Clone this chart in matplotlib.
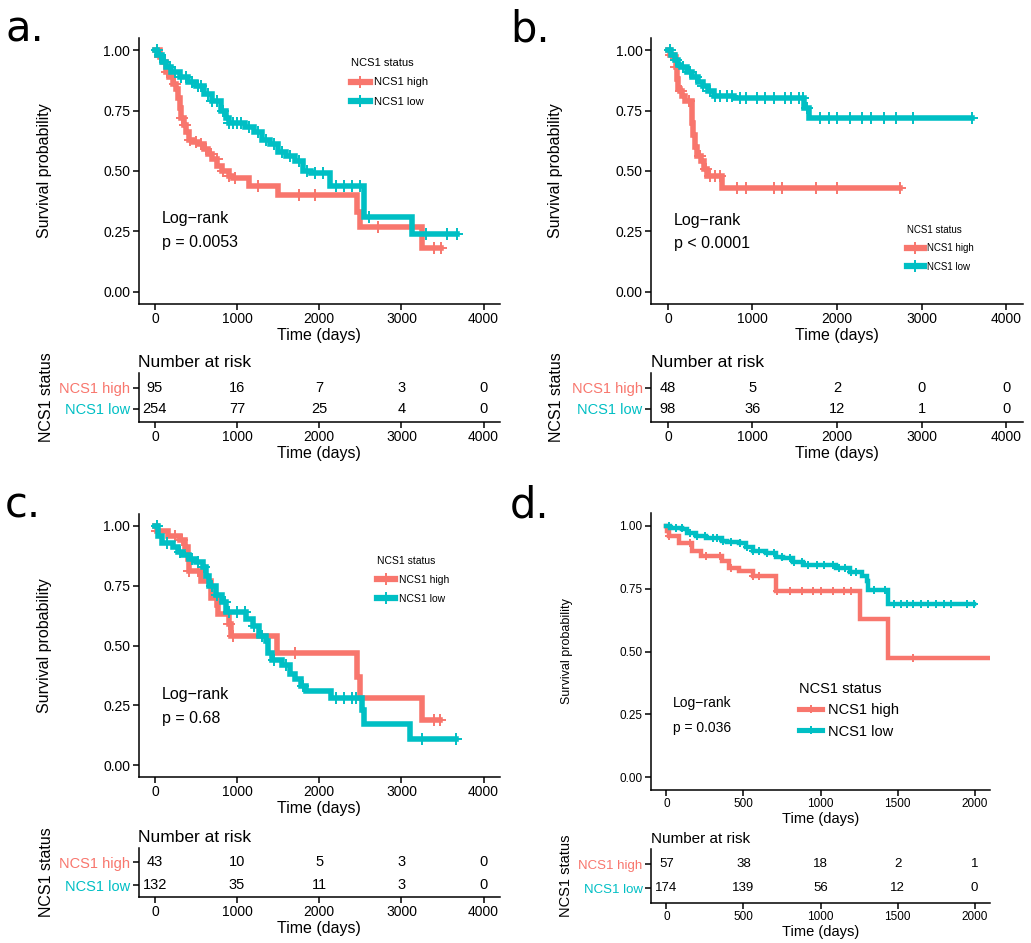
import numpy as np
import matplotlib.pyplot as plt
from matplotlib.lines import Line2D

W, H = 1031, 943
RED = '#F8766D'
CYAN = '#00BFC4'
plt.rcParams['font.family'] = ['Liberation Sans', 'DejaVu Sans']

groups = ['NCS1 high', 'NCS1 low']

# ---- panel a ----
a_high_t = [0, 60, 100, 130, 170, 220, 260, 280, 300, 320, 350, 380, 420, 460, 520, 600,
            650, 700, 760, 820, 900, 950, 1150, 1500, 2460, 2490, 3250]
a_high_s = [1.0, 0.97, 0.95, 0.91, 0.89, 0.86, 0.84, 0.80, 0.76, 0.72, 0.69, 0.66, 0.63, 0.62,
            0.61, 0.59, 0.57, 0.55, 0.52, 0.50, 0.48, 0.47, 0.44, 0.40, 0.33, 0.27, 0.18]
a_high_end = 3480
a_high_cens = [60, 150, 250, 330, 370, 430, 500, 560, 620, 680, 750, 830, 900, 980, 1250,
               1750, 1950, 2720, 3400, 3480]
a_low_t = [0, 30, 80, 130, 200, 300, 400, 500, 600, 700, 800, 870, 900, 1100, 1200, 1300,
           1400, 1500, 1600, 1700, 1800, 1900, 2130, 2540, 3130]
a_low_s = [1.0, 0.98, 0.95, 0.93, 0.91, 0.89, 0.87, 0.85, 0.82, 0.79, 0.75, 0.72, 0.70, 0.68,
           0.66, 0.63, 0.61, 0.58, 0.56, 0.54, 0.50, 0.49, 0.44, 0.31, 0.24]
a_low_end = 3680
a_low_cens = [20, 60, 120, 180, 250, 320, 380, 450, 520, 560, 640, 700, 760, 830, 900, 950,
              1000, 1050, 1150, 1250, 1350, 1450, 1550, 1650, 1750, 1850, 1950, 2050, 2200,
              2300, 2400, 2500, 2600, 3300, 3550, 3680]
a_risk_t = [0, 1000, 2000, 3000, 4000]
a_risk_high = [95, 16, 7, 3, 0]
a_risk_low = [254, 77, 25, 4, 0]
a_p = 'p = 0.0053'

# ---- panel b ----
b_high_t = [0, 30, 70, 95, 105, 120, 140, 165, 200, 280, 290, 300, 320, 340, 390, 430, 460, 640]
b_high_s = [1.0, 0.98, 0.97, 0.93, 0.88, 0.84, 0.83, 0.81, 0.79, 0.76, 0.70, 0.65, 0.60, 0.56,
            0.54, 0.51, 0.48, 0.43]
b_high_end = 2750
b_high_cens = [40, 100, 150, 250, 380, 450, 500, 560, 620, 820, 920, 1250, 1350, 1750, 2000, 2750]
b_low_t = [0, 40, 80, 120, 160, 220, 280, 350, 420, 480, 540, 780, 1610, 1670]
b_low_s = [1.0, 0.98, 0.96, 0.94, 0.93, 0.91, 0.89, 0.87, 0.85, 0.83, 0.81, 0.80, 0.76, 0.72]
b_low_end = 3600
b_low_cens = [30, 100, 180, 260, 330, 420, 500, 560, 620, 700, 760, 850, 920, 1050, 1150, 1250,
              1380, 1450, 1550, 1600, 1650, 1800, 1900, 2000, 2150, 2300, 2400, 2550, 2700,
              2900, 3600]
b_risk_t = [0, 1000, 2000, 3000, 4000]
b_risk_high = [48, 5, 2, 0, 0]
b_risk_low = [98, 36, 12, 1, 0]
b_p = 'p < 0.0001'

# ---- panel c ----
c_high_t = [0, 20, 160, 300, 370, 400, 420, 560, 680, 750, 770, 900, 930, 1490, 2460, 2490, 3250]
c_high_s = [1.0, 0.98, 0.96, 0.94, 0.91, 0.86, 0.81, 0.77, 0.70, 0.67, 0.63, 0.59, 0.54, 0.47,
            0.37, 0.28, 0.19]
c_high_end = 3470
c_high_cens = [30, 250, 330, 420, 530, 900, 950, 1700, 3400, 3470]
c_low_t = [0, 40, 80, 220, 280, 340, 420, 500, 580, 620, 660, 740, 820, 860, 1110, 1190, 1270,
           1350, 1380, 1430, 1550, 1640, 1700, 1780, 1840, 2140, 2520, 2540, 3110]
c_low_s = [1.0, 0.96, 0.93, 0.91, 0.89, 0.88, 0.86, 0.85, 0.83, 0.79, 0.75, 0.71, 0.68, 0.64,
           0.61, 0.58, 0.54, 0.52, 0.47, 0.44, 0.42, 0.38, 0.36, 0.33, 0.31, 0.28, 0.23, 0.17,
           0.11]
c_low_end = 3670
c_low_cens = [20, 150, 300, 450, 520, 600, 700, 760, 850, 900, 1000, 1100, 1200, 1300, 1450,
              1600, 1800, 2200, 2300, 2400, 2450, 3250, 3670]
c_risk_t = [0, 1000, 2000, 3000, 4000]
c_risk_high = [43, 10, 5, 3, 0]
c_risk_low = [132, 35, 11, 3, 0]
c_p = 'p = 0.68'

# ---- panel d ----
d_high_t = [0, 4, 15, 37, 80, 168, 222, 363, 407, 472, 559, 712, 1256, 1441]
d_high_s = [1.0, 0.98, 0.96, 0.96, 0.93, 0.90, 0.88, 0.86, 0.83, 0.82, 0.80, 0.74, 0.63, 0.475]
d_high_end = 2100
d_high_cens = [20, 150, 260, 350, 420, 560, 600, 720, 800, 880, 950, 1000, 1080, 1150, 1200,
               1600]
d_low_t = [0, 26, 102, 135, 189, 255, 363, 396, 472, 516, 559, 646, 712, 755, 820, 886, 1103,
           1190, 1267, 1299, 1310, 1441]
d_low_s = [1.0, 0.99, 0.985, 0.97, 0.96, 0.95, 0.94, 0.935, 0.93, 0.915, 0.90, 0.89, 0.875,
           0.87, 0.855, 0.845, 0.83, 0.815, 0.80, 0.78, 0.745, 0.69]
d_low_end = 1996
d_low_cens = [20, 60, 100, 150, 200, 250, 300, 330, 370, 420, 480, 520, 560, 600, 650, 700,
              750, 800, 830, 880, 920, 980, 1020, 1080, 1120, 1160, 1200, 1230, 1350, 1420,
              1480, 1520, 1560, 1600, 1650, 1700, 1750, 1800, 1850, 1950, 1996]
d_risk_t = [0, 500, 1000, 1500, 2000]
d_risk_high = [57, 38, 18, 2, 1]
d_risk_low = [174, 139, 56, 12, 0]
d_p = 'p = 0.036'


def box(l, t, r, b):
    return [l / W, 1 - b / H, (r - l) / W, (b - t) / H]


def fx(x):
    return x / W


def fy(y):
    return 1 - y / H


def style_axis(ax, fs):
    for s in ['top', 'right']:
        ax.spines[s].set_visible(False)
    for s in ['left', 'bottom']:
        ax.spines[s].set_linewidth(1.1)
    ax.tick_params(length=4, width=1.1, labelsize=fs, pad=2, colors='black')


def km_line(ax, t, s, end, cens, color, lw, ms):
    tt = list(t) + [end]
    ss = list(s) + [s[-1]]
    ax.step(tt, ss, where='post', color=color, lw=lw, solid_joinstyle='miter')
    idx = np.searchsorted(t, cens, side='right') - 1
    ax.plot(cens, np.array(s)[idx], ls='none', marker='+', color=color, ms=ms, mew=1.4)


def panel(letter, lpos, main_box, tab_box, xmax, xticks, high, low, risk, ptxt, cfg):
    fs = cfg['fs']
    fig.text(fx(lpos[0]), fy(lpos[1]), letter, fontsize=30, family='DejaVu Sans', va='baseline')

    ax = fig.add_axes(box(*main_box))
    km_line(ax, *high, RED, cfg['lw'], cfg['ms'])
    km_line(ax, *low, CYAN, cfg['lw'], cfg['ms'])
    ax.set_xlim(-0.05 * xmax, 1.05 * xmax)
    ax.set_ylim(-0.05, 1.05)
    ax.set_xticks(xticks)
    ax.set_yticks([0, 0.25, 0.5, 0.75, 1.0])
    ax.set_yticklabels(['0.00', '0.25', '0.50', '0.75', '1.00'])
    style_axis(ax, fs)
    ax.set_xlabel('Time (days)', fontsize=cfg['lab'], labelpad=1)
    ax.set_ylabel('Survival probability', fontsize=cfg['ylab'])
    ax.yaxis.set_label_coords((cfg['ylx'] - main_box[0]) / (main_box[2] - main_box[0]), 0.5)

    fig.text(fx(cfg['lr'][0]), fy(cfg['lr'][1]), 'Log\u2212rank', fontsize=cfg['lrfs'], va='center')
    fig.text(fx(cfg['lr'][0]), fy(cfg['lr'][2]), ptxt, fontsize=cfg['lrfs'], va='center')

    handles = [Line2D([], [], color=RED, lw=cfg['lw'] + 0.5, marker='+', ms=cfg['ms'], mew=1.4),
               Line2D([], [], color=CYAN, lw=cfg['lw'] + 0.5, marker='+', ms=cfg['ms'], mew=1.4)]
    leg = ax.legend(handles, groups, title='NCS1 status', loc='upper left',
                    bbox_to_anchor=(fx(cfg['leg'][0]), fy(cfg['leg'][1])),
                    bbox_transform=fig.transFigure, frameon=False,
                    fontsize=cfg['legfs'], title_fontsize=cfg['legfs'],
                    handlelength=cfg['hl'], handletextpad=0.4, labelspacing=cfg['lsp'],
                    borderpad=0, borderaxespad=0)
    leg._legend_box.align = 'left'

    tx = fig.add_axes(box(*tab_box))
    for vals, yv in [(risk[1], 2), (risk[2], 1)]:
        for t, v in zip(risk[0], vals):
            tx.text(t, yv, str(v), ha='center', va='center', fontsize=cfg['rfs'])
    tx.set_xlim(-0.05 * xmax, 1.05 * xmax)
    tx.set_ylim(cfg['tyl'])
    tx.set_xticks(xticks)
    tx.set_yticks([2, 1])
    tx.set_yticklabels(groups)
    style_axis(tx, fs)
    tx.tick_params(axis='y', labelsize=cfg['rfs'])
    for lab, c in zip(tx.get_yticklabels(), [RED, CYAN]):
        lab.set_color(c)
    tx.set_xlabel('Time (days)', fontsize=cfg['lab'], labelpad=1)
    tx.set_ylabel('NCS1 status', fontsize=cfg['lab'])
    tx.yaxis.set_label_coords((cfg['tlx'] - tab_box[0]) / (tab_box[2] - tab_box[0]), 0.5)
    tx.set_title('Number at risk', loc='left', fontsize=cfg['nfs'], pad=4)


fig = plt.figure(figsize=(W / 100, H / 100), dpi=100)

big = dict(fs=10, lab=11.5, ylab=11.5, lw=4, ms=8, lrfs=11.5, legfs=8, rfs=10.5, nfs=12.5,
           ylx=52, tlx=54, tyl=(0.38, 2.71), hl=1.7, lsp=0.85)

cfg_a = dict(big, lr=(162, 219, 242), leg=(351, 58))
panel('a.', (5, 42), (138.5, 38, 500, 304), (138.5, 373, 500, 422), 4000,
      [0, 1000, 2000, 3000, 4000],
      (a_high_t, a_high_s, a_high_end, a_high_cens), (a_low_t, a_low_s, a_low_end, a_low_cens),
      (a_risk_t, a_risk_high, a_risk_low), a_p, cfg_a)

cfg_b = dict(big, lr=(674, 220, 244), leg=(907, 225), legfs=7, ylx=563, tlx=564)
panel('b.', (510, 42), (651, 38, 1023, 304), (651, 373, 1023, 422), 4000,
      [0, 1000, 2000, 3000, 4000],
      (b_high_t, b_high_s, b_high_end, b_high_cens), (b_low_t, b_low_s, b_low_end, b_low_cens),
      (b_risk_t, b_risk_high, b_risk_low), b_p, cfg_b)

cfg_c = dict(big, lr=(162, 695, 718), leg=(377, 556), legfs=7.5, tyl=(0.48, 2.61))
panel('c.', (5, 518), (138.5, 514, 500, 777), (138.5, 848, 500, 897), 4000,
      [0, 1000, 2000, 3000, 4000],
      (c_high_t, c_high_s, c_high_end, c_high_cens), (c_low_t, c_low_s, c_low_end, c_low_cens),
      (c_risk_t, c_risk_high, c_risk_low), c_p, cfg_c)

cfg_d = dict(fs=8.5, lab=10.5, ylab=9, lw=3.2, ms=6, lrfs=10, legfs=10.5, rfs=9.5, nfs=11,
             ylx=573, tlx=573, tyl=(0.375, 2.63), lr=(673, 703, 728), leg=(799, 682),
             hl=1.6, lsp=0.5)
panel('d.', (510, 518), (651, 513, 990, 790), (651, 849, 990, 903), 2000,
      [0, 500, 1000, 1500, 2000],
      (d_high_t, d_high_s, d_high_end, d_high_cens), (d_low_t, d_low_s, d_low_end, d_low_cens),
      (d_risk_t, d_risk_high, d_risk_low), d_p, cfg_d)

fig.savefig('out.png', dpi=100)
